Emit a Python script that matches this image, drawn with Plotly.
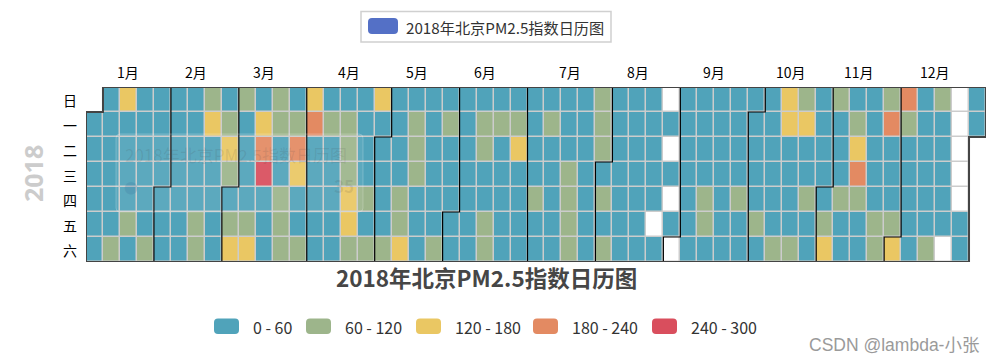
import numpy as np
import pandas as pd
import plotly.graph_objects as go

# ---------------- data (daily PM2.5 index, 2018) ----------------
YEAR = 2018
jan = [35, 35, 35, 35, 35, 35, 35, 35, 35, 35, 35, 35, 85, 150, 35, 35, 35, 35, 85, 35,
       35, 35, 35, 35, 35, 35, 85, 35, 35, 35, 35]
feb = [35, 35, 35, 35, 35, 35, 35, 35, 35, 35, 35, 35, 35, 35, 35, 85, 85, 85, 150, 35,
       35, 35, 35, 35, 35, 85, 150, 85]
mar = [35, 85, 150, 85, 35, 35, 35, 35, 85, 150, 35, 150, 210, 260, 35, 35, 35, 85, 85, 35,
       35, 85, 85, 85, 35, 85, 210, 150, 35, 35, 85]
apr = [150, 210, 35, 35, 35, 35, 35, 35, 85, 35, 35, 35, 35, 35, 35, 85, 85, 85, 150, 150,
       85, 35, 35, 35, 35, 85, 35, 85, 150, 35]
may = [35, 35, 35, 35, 85, 35, 35, 35, 35, 85, 85, 150, 35, 85, 85, 85, 35, 35, 35, 35,
       35, 35, 35, 35, 35, 85, 35, 85, 35, 35, 35]
jun = [35, 35, 35, 35, 35, 35, 35, 35, 35, 35, 85, 85, 35, 35, 85, 85, 35, 85, 35, 35,
       35, 35, 35, 35, 85, 150, 35, 35, 35, 35]
jul = [35, 35, 35, 35, 85, 35, 35, 35, 85, 35, 35, 35, 35, 35, 35, 35, 35, 85, 85, 85,
       85, 35, 35, 35, 35, 35, 35, 35, 85, 85, 85]
aug = [35, 85, 35, 85, 35, 35, 35, 35, 35, 35, 35, 35, 35, 35, 35, 35, 35, 35, 35, 35,
       35, 35, 35, None, 35, None, 35, None, 35, None, 35]
sep = [None, 35, 35, 35, 35, 35, 35, 35, 35, 35, 35, 35, 85, 85, 35, 35, 35, 35, 35, 35,
       35, 35, 35, 35, 35, 35, 85, 35, 35, 35]
oct_ = [35, 35, 35, 35, 85, 35, 35, 35, 35, 35, 35, 35, 85, 150, 150, 35, 35, 35, 35, 85,
        85, 150, 35, 35, 85, 35, 35, 35, 35, 35, 35]
nov = [35, 85, 150, 85, 35, 35, 35, 85, 35, 35, 35, 85, 150, 210, 85, 35, 35, 35, 35, 35,
       35, 35, 85, 85, 85, 210, 35, 35, 35, 85]
dec = [150, 210, 85, 35, 35, 35, 35, 35, 35, 35, 35, 35, 35, 35, 85, 85, 35, 35, 35, 35,
       35, None, None, None, None, None, None, 35, 35, 35, 35]

month_labels = ["1月", "2月", "3月", "4月", "5月", "6月", "7月", "8月", "9月", "10月", "11月", "12月"]
day_labels = ["日", "一", "二", "三", "四", "五", "六"]
piece_labels = ["0 - 60", "60 - 120", "120 - 180", "180 - 240", "240 - 300"]
piece_bounds = [0, 60, 120, 180, 240, 300]
series_name = "2018年北京PM2.5指数日历图"

# ---------------- styles / layout ----------------
piece_colors = ["#50a3ba", "#9db58b", "#eac763", "#e38a62", "#d94e5d"]
FONT = "Noto Sans CJK SC, Microsoft YaHei, sans-serif"
W, H = 996, 363
L, R, T, B = 86, 10, 87, 101
PW, PH = W - L - R, H - T - B


def px(x):
    return (x - L) / PW


def py(y):
    return (H - B - y) / PH


def rrect(x0, y0, x1, y1, r):
    return (f"M {px(x0 + r)},{py(y0)} L {px(x1 - r)},{py(y0)} Q {px(x1)},{py(y0)} {px(x1)},{py(y0 + r)} "
            f"L {px(x1)},{py(y1 - r)} Q {px(x1)},{py(y1)} {px(x1 - r)},{py(y1)} "
            f"L {px(x0 + r)},{py(y1)} Q {px(x0)},{py(y1)} {px(x0)},{py(y1 - r)} "
            f"L {px(x0)},{py(y0 + r)} Q {px(x0)},{py(y0)} {px(x0 + r)},{py(y0)} Z")


def note(x, y, text, size, color, xanchor="center", family=FONT, xref="paper", yref="paper", **kw):
    return dict(x=x, y=y, xref=xref, yref=yref, text=text, showarrow=False,
                xanchor=xanchor, yanchor="middle",
                font=dict(size=size, color=color, family=family), **kw)


# ---------------- calendar positions ----------------
months_vals = [jan, feb, mar, apr, may, jun, jul, aug, sep, oct_, nov, dec]
values = [v for m in months_vals for v in m]
dates = pd.date_range(f"{YEAR}-01-01", f"{YEAR}-12-31", freq="D")
assert len(values) == len(dates)
offset = (dates[0].weekday() + 1) % 7
col = (np.arange(len(dates)) + offset) // 7
row = (np.asarray(dates.weekday) + 1) % 7
ncols = int(col.max()) + 1

z = np.full((7, ncols), np.nan)
zmiss = np.full((7, ncols), np.nan)
for c, r, v in zip(col, row, values):
    if v is None:
        zmiss[r, c] = 1
    else:
        z[r, c] = v

cs = []
zmax = piece_bounds[-1]
for i, colr in enumerate(piece_colors):
    cs += [[piece_bounds[i] / zmax, colr], [piece_bounds[i + 1] / zmax, colr]]

fig = go.Figure()
fig.add_trace(go.Heatmap(z=z, x=list(range(ncols)), y=list(range(7)), colorscale=cs,
                         zmin=0, zmax=zmax, showscale=False, xgap=1.5, ygap=1.5,
                         hoverinfo="skip", name=series_name))
fig.add_trace(go.Heatmap(z=zmiss, x=list(range(ncols)), y=list(range(7)),
                         colorscale=[[0, "#ffffff"], [1, "#ffffff"]], showscale=False,
                         xgap=1.5, ygap=1.5, hoverinfo="skip"))

shapes = []
c0, r0 = int(col[0]), int(row[0])
cL, rL = int(col[-1]), int(row[-1])
outline = (f"M {c0 - 0.5},{r0 - 0.5} L {c0 + 0.5},{r0 - 0.5} L {c0 + 0.5},-0.5 L {cL + 0.5},-0.5 "
           f"L {cL + 0.5},{rL + 0.5} L {cL - 0.5},{rL + 0.5} L {cL - 0.5},6.5 L {c0 - 0.5},6.5 Z")
shapes.append(dict(type="path", xref="x", yref="y", path=outline, fillcolor="#cccccc",
                   line=dict(width=0), layer="below"))
for m in range(2, 13):
    idx = int(np.where((dates.month == m) & (dates.day == 1))[0][0])
    c, r = int(col[idx]), int(row[idx])
    p = f"M {c - 0.5},6.5 L {c - 0.5},{r - 0.5} L {c + 0.5},{r - 0.5} L {c + 0.5},-0.5"
    shapes.append(dict(type="path", xref="x", yref="y", path=p,
                       line=dict(color="#000000", width=1.2), layer="above"))
shapes.append(dict(type="path", xref="x", yref="y", path=outline,
                   line=dict(color="#444444", width=2), layer="above"))

annotations = []
for m in range(1, 13):
    cols_m = col[dates.month == m]
    annotations.append(note((cols_m.min() + cols_m.max()) / 2, py(72), month_labels[m - 1],
                            14, "#000", xref="x"))
for r, lab in enumerate(day_labels):
    annotations.append(note(px(70), r, lab, 14, "#000", yref="y"))
annotations.append(note(px(33), py(174), "<b>2018</b>", 25, "#cccccc",
                        family="Noto Sans, sans-serif", textangle=-90))
annotations.append(note(px(486.5), py(277), "<b>" + series_name + "</b>", 22.5, "#464646"))

# top legend
shapes.append(dict(type="rect", xref="paper", yref="paper", x0=px(361), x1=px(611), y0=py(11.5), y1=py(42),
                   line=dict(color="#d0d0d0", width=1.5), fillcolor="rgba(0,0,0,0)"))
shapes.append(dict(type="path", xref="paper", yref="paper", path=rrect(368, 18, 398, 34, 4),
                   fillcolor="#5470c6", line=dict(width=0)))
annotations.append(note(px(404), py(26.5), series_name, 15.2, "#333", xanchor="left"))

# piecewise visual map legend
piece_x = [214, 306, 416, 533, 652]
for i, lab in enumerate(piece_labels):
    x0 = piece_x[i]
    shapes.append(dict(type="path", xref="paper", yref="paper", path=rrect(x0, 318.5, x0 + 25, 334, 4),
                       fillcolor=piece_colors[i], line=dict(width=0)))
    annotations.append(note(px(x0 + 37), py(326.5), lab.replace(" - ", "&nbsp;-&nbsp;"), 16, "#333",
                            xanchor="left"))

# faded tooltip left in the screenshot
shapes.append(dict(type="path", xref="paper", yref="paper", path=rrect(116, 134, 363, 212, 4),
                   fillcolor="rgba(255,255,255,0.07)", line=dict(color="rgba(255,255,255,0.22)", width=1)))
annotations.append(note(px(123), py(154), series_name, 17, "rgba(70,70,70,0.13)", xanchor="left"))
annotations.append(note(px(131), py(187), "●", 14, "rgba(60,120,160,0.25)"))
annotations.append(note(px(356), py(185), "<b>35</b>", 17, "rgba(70,70,70,0.13)", xanchor="right"))

# watermark
annotations.append(note(px(981), py(345), "CSDN @lambda-小张", 17.5, "#9a9a9a", xanchor="right",
                        family="Liberation Sans, Noto Sans CJK SC"))

fig.update_layout(
    width=W, height=H, margin=dict(l=L, r=R, t=T, b=B, pad=0),
    paper_bgcolor="#ffffff", plot_bgcolor="#ffffff",
    xaxis=dict(range=[-0.5, ncols - 0.5], visible=False, fixedrange=True),
    yaxis=dict(range=[6.5, -0.5], visible=False, fixedrange=True),
    shapes=shapes, annotations=annotations, showlegend=False,
    font=dict(family=FONT),
)
fig.write_html("out.html", config={"displayModeBar": False},
               post_script="document.body.style.margin='0';document.body.style.overflow='hidden';")
